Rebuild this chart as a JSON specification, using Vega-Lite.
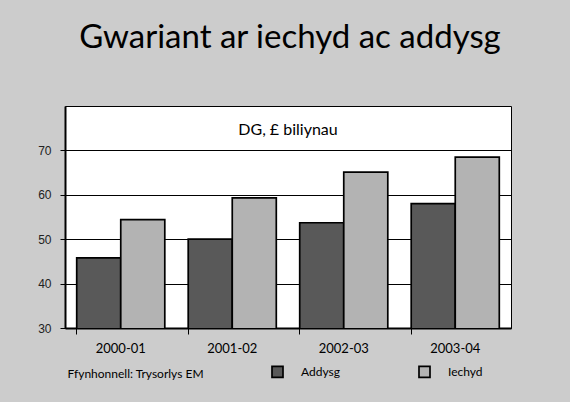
{
  "$schema": "https://vega.github.io/schema/vega-lite/v6.json",
  "width": 446,
  "height": 222,
  "autosize": {"type": "none"},
  "padding": {"left": 65, "top": 106, "right": 59, "bottom": 74},
  "background": "#cccccc",
  "title": {
    "text": "Gwariant ar iechyd ac addysg",
    "anchor": "middle",
    "frame": "group",
    "font": "Lato",
    "fontSize": 33,
    "fontWeight": "normal",
    "color": "#000000",
    "baseline": "alphabetic",
    "offset": 25,
    "dx": 2
  },
  "config": {
    "view": {"fill": "white", "stroke": "#000000", "strokeWidth": 1}
  },
  "data": {
    "values": [
      {"year": "2000-01", "series": "Addysg", "value": 45.8},
      {"year": "2000-01", "series": "Iechyd", "value": 54.4},
      {"year": "2001-02", "series": "Addysg", "value": 50.0},
      {"year": "2001-02", "series": "Iechyd", "value": 59.3},
      {"year": "2002-03", "series": "Addysg", "value": 53.7},
      {"year": "2002-03", "series": "Iechyd", "value": 65.1},
      {"year": "2003-04", "series": "Addysg", "value": 58.0},
      {"year": "2003-04", "series": "Iechyd", "value": 68.5}
    ]
  },
  "layer": [
    {
      "mark": {"type": "bar", "stroke": "#000000", "strokeWidth": 1.7, "clip": true},
      "encoding": {
        "x": {
          "field": "year",
          "type": "nominal",
          "scale": {"paddingInner": 0.21, "paddingOuter": 0.105},
          "axis": {
            "title": "Ffynhonnell: Trysorlys EM",
            "titleFont": "Lato",
            "titleFontSize": 12,
            "titleFontWeight": "normal",
            "titleColor": "#000000",
            "titleAnchor": "start",
            "titleAlign": "left",
            "titleBaseline": "middle",
            "titleX": 2,
            "titleY": 45,
            "labelAngle": 0,
            "labelFont": "Lato",
            "labelFontSize": 13,
            "labelColor": "#000000",
            "labelPadding": 8,
            "domainColor": "#000000",
            "domainWidth": 2,
            "tickColor": "#000000",
            "tickSize": 6,
            "tickWidth": 1,
            "bandPosition": 0
          }
        },
        "xOffset": {"field": "series", "type": "nominal", "scale": {"paddingInner": 0, "paddingOuter": 0}},
        "y": {
          "field": "value",
          "type": "quantitative",
          "scale": {"domain": [30, 80], "nice": false, "zero": false},
          "axis": {
            "title": null,
            "values": [30, 40, 50, 60, 70],
            "grid": true,
            "gridColor": "#000000",
            "gridWidth": 1,
            "domainColor": "#000000",
            "domainWidth": 2,
            "tickColor": "#000000",
            "tickSize": 5,
            "labelFont": "Liberation Sans",
            "labelFontSize": 12,
            "labelColor": "#222222",
            "labelPadding": 9
          }
        },
        "fill": {
          "field": "series",
          "type": "nominal",
          "scale": {"domain": ["Addysg", "Iechyd"], "range": ["#595959", "#b3b3b3"]},
          "legend": {
            "title": null,
            "orient": "none",
            "legendX": 206,
            "legendY": 259,
            "direction": "horizontal",
            "symbolType": "square",
            "symbolSize": 121,
            "symbolStrokeColor": "#000000",
            "symbolStrokeWidth": 1.7,
            "labelFont": "Lato",
            "labelFontSize": 12,
            "labelColor": "#000000",
            "labelOffset": 17,
            "columnPadding": 75,
            "padding": 0
          }
        }
      }
    },
    {
      "data": {"values": [{"label": "DG, £ biliynau"}]},
      "mark": {"type": "text", "font": "Lato", "fontSize": 16, "color": "#000000", "baseline": "middle", "align": "center"},
      "encoding": {
        "y": {"datum": 74.7},
        "text": {"field": "label", "type": "nominal"}
      }
    }
  ]
}
